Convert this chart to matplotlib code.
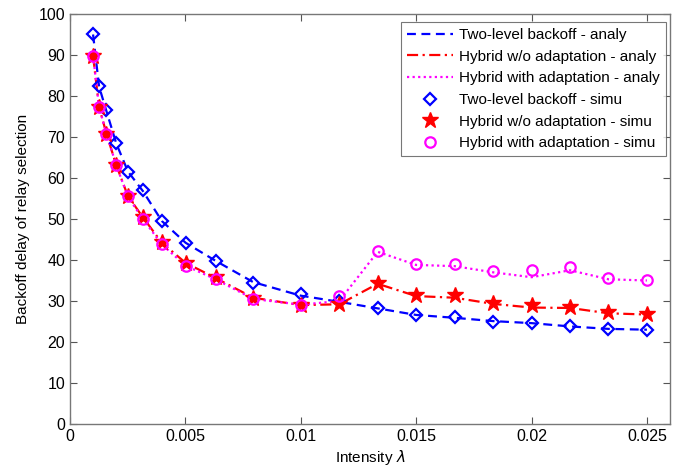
import matplotlib
matplotlib.use("Agg")
import matplotlib.pyplot as plt
import numpy as np

# x values (intensity lambda)
x = [0.001, 0.00126, 0.00158, 0.002, 0.00251, 0.00316, 0.00398, 0.00501, 0.00631, 0.00794,
     0.01, 0.011667, 0.013333, 0.015, 0.016667, 0.018333, 0.02, 0.021667, 0.023333, 0.025]

two_level_analy = [95.0, 82.3, 76.3, 68.5, 61.6, 56.8, 49.5, 44.2, 39.8, 34.6,
                   31.3, 29.8, 28.2, 26.6, 25.9, 25.1, 24.6, 23.8, 23.2, 23.0]
hybrid_wo_analy = [89.8, 77.3, 70.8, 63.2, 55.6, 50.4, 44.2, 39.3, 35.6, 30.8,
                   29.0, 29.2, 34.2, 31.2, 30.8, 29.3, 28.4, 28.3, 27.0, 26.7]
hybrid_with_analy = [89.8, 77.3, 70.8, 63.2, 55.4, 50.0, 43.8, 38.6, 35.3, 30.5,
                     29.1, 30.0, 42.0, 38.8, 38.5, 37.0, 35.8, 37.5, 35.3, 35.0]

two_level_simu = [95.2, 82.5, 76.5, 68.5, 61.5, 57.0, 49.5, 44.2, 39.8, 34.5,
                  31.8, 30.0, 28.2, 26.5, 26.0, 25.0, 24.7, 23.8, 23.2, 23.0]
hybrid_wo_simu = [89.8, 77.3, 70.8, 63.2, 55.6, 50.5, 44.5, 39.3, 35.8, 30.8,
                  29.0, 29.2, 34.5, 31.5, 31.5, 29.5, 29.0, 28.6, 27.2, 26.8]
hybrid_with_simu = [89.8, 77.3, 70.8, 63.2, 55.5, 50.0, 43.8, 38.5, 35.3, 30.5,
                    29.0, 31.2, 42.3, 39.0, 39.0, 37.4, 37.5, 38.2, 35.5, 35.1]

xticks = [0, 0.005, 0.01, 0.015, 0.02, 0.025]
xticklabels = ["0", "0.005", "0.01", "0.015", "0.02", "0.025"]
yticks = list(range(0, 101, 10))

plt.rcParams['font.family'] = ['Liberation Sans', 'DejaVu Sans']

fig = plt.figure(figsize=(6.88, 4.67), dpi=100)
ax = fig.add_axes([70/688, 43/467, 600/688, 410/467])

blue = '#0000ff'
red = '#ff0000'
mag = '#ff00ff'

ax.plot(x, two_level_analy, color=blue, linestyle=(0, (4, 2.5)), lw=1.6, label='Two-level backoff - analy')
ax.plot(x, hybrid_wo_analy, color=red, linestyle=(0, (5, 2, 1, 2)), lw=1.6, label='Hybrid w/o adaptation - analy')
ax.plot(x, hybrid_with_analy, color=mag, linestyle=(0, (1, 1.5)), lw=1.6, label='Hybrid with adaptation - analy')
ax.plot(x, two_level_simu, linestyle='none', marker='D', markersize=6.5, markerfacecolor='none',
        markeredgecolor=blue, markeredgewidth=1.6, label='Two-level backoff - simu')
ax.plot(x, hybrid_wo_simu, linestyle='none', marker='*', markersize=12, markerfacecolor=red,
        markeredgecolor=red, markeredgewidth=1.0, label='Hybrid w/o adaptation - simu')
ax.plot(x, hybrid_with_simu, linestyle='none', marker='o', markersize=7.5, markerfacecolor='none',
        markeredgecolor=mag, markeredgewidth=1.6, label='Hybrid with adaptation - simu')

ax.set_xlim(0, 0.026)
ax.set_ylim(0, 100)
ax.set_xticks(xticks)
ax.set_xticklabels(xticklabels)
ax.set_yticks(yticks)
ax.tick_params(direction='in', top=True, right=True, length=5, width=0.8, colors='#555555',
               labelcolor='black', labelsize=11.5)
for s in ax.spines.values():
    s.set_color('#777777')
    s.set_linewidth(1.0)

ax.set_xlabel('Intensity $\\lambda$', fontsize=11, labelpad=3)
ax.set_ylabel('Backoff delay of relay selection', fontsize=11, labelpad=6)

leg = ax.legend(loc='upper right', fontsize=11, frameon=True, fancybox=False,
                bbox_to_anchor=(596/600, 402/410), borderaxespad=0.0,
                handlelength=3.0, handletextpad=0.4, labelspacing=0.5,
                borderpad=0.4)
leg.get_frame().set_edgecolor('#555555')
leg.get_frame().set_linewidth(0.8)

fig.savefig('out.png', dpi=100)
